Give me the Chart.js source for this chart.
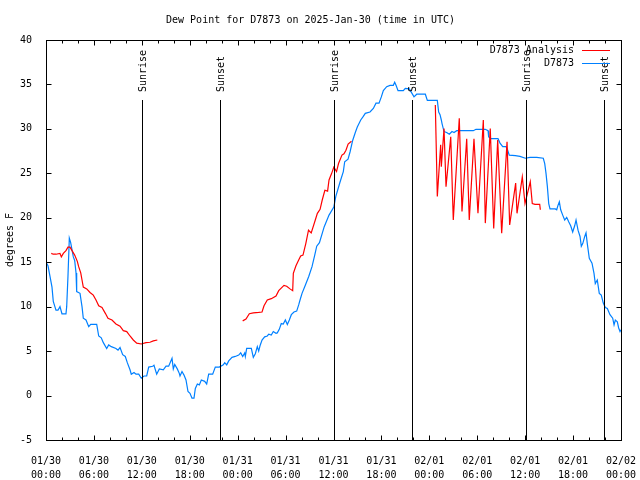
<!DOCTYPE html>
<html>
<head>
<meta charset="utf-8">
<title>Dew Point D7873</title>
<script src="https://cdn.jsdelivr.net/npm/chart.js@4.4.0/dist/chart.umd.min.js"></script>
<style>
  html, body { margin: 0; padding: 0; background: #fff; }
  canvas { display: block; }
</style>
</head>
<body>
<canvas id="dewChart" width="640" height="480"></canvas>
<script>
// hours since 2025-01-30 00:00 UTC
const obsHours = [
  0, 0.25, 0.5, 0.75, 0.91, 1.25, 1.5, 1.75, 2.0, 2.5, 2.59, 2.75, 2.92, 3.09, 3.26, 3.42, 3.59, 3.76, 3.84, 4.26,
  4.51, 4.67, 5.01, 5.35, 5.6, 6.35, 6.6, 6.92, 7.18, 7.6, 7.85, 8.18, 8.76, 9.02, 9.27, 9.6, 9.93, 10.18, 10.52, 10.68,
  11.02, 11.27, 11.61, 11.93, 12.27, 12.61, 12.86, 13.36, 13.52, 13.86, 14.19, 14.69, 15.03, 15.36, 15.78, 15.94, 16.12, 16.44, 16.69, 16.78,
  17.03, 17.28, 17.53, 17.78, 18.03, 18.28, 18.53, 18.7, 18.95, 19.2, 19.45, 19.87, 20.12, 20.37, 20.87, 21.2, 21.7, 22.2, 22.38, 22.63,
  22.88, 23.29, 23.7, 24.13, 24.38, 24.63, 24.88, 24.96, 25.13, 25.71, 25.96, 26.21, 26.46, 26.63, 26.8, 27.05, 27.38, 27.71, 27.89, 28.21,
  28.46, 28.8, 28.96, 29.21, 29.46, 29.71, 29.97, 30.22, 30.47, 30.72, 31.05, 31.39, 31.64, 31.81, 32.06, 32.47, 32.9, 33.31, 33.65, 33.9,
  34.24, 34.84, 35.44, 36.04, 36.29, 36.81, 37.23, 37.4, 37.82, 38.07, 38.4, 38.73, 38.98, 39.41, 39.73, 39.98, 40.57, 40.99, 41.32, 41.7,
  41.99, 42.24, 42.66, 43.08, 43.49, 43.66, 43.83, 44.08, 44.74, 44.99, 45.49, 45.83, 46.08, 46.42, 47.5, 47.75, 49.0, 49.17, 49.34, 49.5,
  49.59, 49.84, 50.17, 50.5, 50.84, 51.09, 51.43, 52.25, 53.51, 53.84, 55.01, 55.35, 55.43, 55.76, 56.6, 56.85, 57.19, 57.6, 57.77, 58.01,
  58.77, 59.35, 60.02, 60.61, 61.45, 62.27, 62.45, 62.61, 62.78, 62.95, 63.11, 63.77, 63.95, 64.11, 64.28, 64.45, 64.7, 64.95, 65.2, 65.45,
  65.7, 65.95, 66.2, 66.37, 66.62, 66.87, 67.03, 67.21, 67.46, 67.62, 67.78, 68.03, 68.37, 68.62, 68.78, 69.03, 69.28, 69.53, 69.78, 70.04,
  70.29, 70.62, 70.96, 71.13, 71.29, 71.54, 71.71, 71.88, 72.0
];
const obsDew = [
  15.0, 14.6, 13.4, 12.2, 10.6, 9.6, 9.6, 10.0, 9.2, 9.2, 10.0, 13.4, 17.7, 17.2, 16.4, 15.6, 15.2, 13.8, 11.7, 11.5,
  10.0, 8.7, 8.5, 7.75, 8.0, 8.0, 6.7, 6.5, 5.95, 5.3, 5.7, 5.5, 5.3, 5.1, 5.4, 4.6, 4.4, 3.7, 2.9, 2.4,
  2.6, 2.4, 2.4, 1.95, 2.2, 2.2, 3.2, 3.3, 3.4, 2.4, 3.0, 2.9, 3.3, 3.3, 4.2, 3.0, 3.5, 3.0, 2.5, 2.2,
  2.7, 2.3, 1.75, 0.45, 0.25, -0.3, -0.3, 0.8, 1.3, 1.2, 1.75, 1.6, 1.3, 2.4, 2.4, 3.2, 3.2, 3.45, 3.7, 3.45,
  3.9, 4.3, 4.4, 4.55, 4.8, 4.4, 4.8, 4.4, 5.3, 5.3, 4.3, 4.7, 5.5, 5.0, 5.6, 6.25, 6.6, 6.7, 6.9, 6.8,
  7.2, 7.0, 7.05, 7.45, 8.1, 8.05, 8.5, 8.0, 8.5, 9.1, 9.4, 9.5, 10.2, 10.75, 11.5, 12.4, 13.4, 14.5, 15.8, 16.8,
  17.2, 19.0, 20.3, 21.2, 22.4, 24.0, 25.2, 26.3, 26.6, 27.4, 28.7, 29.6, 30.2, 31.0, 31.4, 31.75, 31.9, 32.3, 32.9, 32.9,
  33.6, 34.3, 34.75, 34.9, 34.9, 35.25, 34.9, 34.3, 34.3, 34.55, 34.5, 34.0, 33.6, 33.9, 33.9, 33.2, 33.2, 31.9, 31.6, 31.0,
  30.6, 29.7, 29.6, 29.4, 29.7, 29.6, 29.8, 29.8, 29.8, 29.95, 29.95, 29.8, 29.1, 28.9, 28.9, 28.4, 28.0, 28.0, 27.7, 27.05,
  27.0, 26.9, 26.7, 26.8, 26.8, 26.7, 26.1, 25.0, 23.5, 21.6, 21.0, 21.0, 20.9, 21.4, 21.8, 20.9, 20.3, 19.75, 20.05, 19.55,
  19.1, 18.4, 19.1, 19.75, 18.6, 17.9, 16.8, 17.1, 17.9, 18.3, 17.1, 15.45, 14.9, 13.75, 12.6, 13.0, 11.5, 11.3, 10.4, 9.9,
  9.8, 9.1, 8.7, 7.95, 8.5, 8.3, 7.6, 7.2, 7.4
];

// analysis series, null = no analysis (gap)
const anaHours = [
  0.66, 0.91, 1.25, 1.75, 1.92, 2.17, 2.5, 2.75, 3.01, 3.26, 3.59, 3.92, 4.09, 4.35, 4.51, 4.67, 5.1, 5.51, 5.92, 6.26,
  6.6, 7.01, 7.43, 7.76, 8.26, 8.76, 9.27, 9.68, 10.11, 10.52, 10.93, 11.36, 11.93, 12.52, 13.02, 13.44, 13.94,
  19.0,
  24.63, 25.04, 25.46, 25.96, 26.63, 27.05, 27.3, 27.71, 28.21, 28.8, 29.14, 29.8, 30.14, 30.55, 30.89, 30.97, 31.3, 31.64, 31.89, 32.18,
  32.53, 32.87, 33.21, 33.72, 33.98, 34.32, 34.59, 34.92, 35.26, 35.44, 35.77, 36.04, 36.38, 36.63, 37.06, 37.31, 37.56, 37.83, 38.25,
  43.0,
  48.75, 49.0, 49.42, 49.5, 49.84, 50.09, 50.68, 51.0, 51.75, 52.09, 52.68, 53.0, 53.59, 54.09, 54.76, 55.01, 55.63, 56.06, 56.56, 57.06,
  57.73, 58.06, 58.81, 58.98, 59.64, 59.98, 60.64, 60.89, 61.23, 61.82, 61.9
];
const anaDew = [
  16.0, 15.9, 15.9, 16.0, 15.6, 16.0, 16.3, 16.7, 16.7, 16.3, 15.8, 15.1, 14.5, 13.8, 13.0, 12.2, 12.0, 11.6, 11.3, 10.75,
  10.1, 9.9, 9.25, 8.7, 8.5, 8.05, 7.8, 7.3, 7.2, 6.7, 6.25, 5.9, 5.8, 5.95, 6.0, 6.15, 6.25,
  null,
  8.4, 8.6, 9.2, 9.3, 9.35, 9.4, 10.1, 10.75, 10.9, 11.2, 11.8, 12.4, 12.3, 12.0, 11.8, 13.75, 14.6, 15.25, 15.7, 15.8,
  17.1, 18.6, 18.3, 19.75, 20.5, 20.95, 22.0, 23.1, 23.0, 24.25, 25.0, 25.7, 25.2, 26.1, 27.05, 27.2, 27.6, 28.3, 28.6,
  null,
  32.7, 22.4, 28.2, 25.75, 30.05, 23.5, 29.1, 19.75, 31.2, 20.7, 28.9, 19.75, 28.9, 20.5, 31.0, 19.4, 30.05, 18.8, 28.75, 18.25,
  28.55, 19.2, 23.9, 20.5, 24.6, 21.6, 24.05, 21.6, 21.5, 21.5, 20.9
];

const sunHours = [12.0, 21.8, 36.05, 45.85, 60.1, 69.9];
const sunLabels = ['Sunrise', 'Sunset', 'Sunrise', 'Sunset', 'Sunrise', 'Sunset'];

const obsColor = 'rgb(0, 128, 255)';
const anaColor = 'rgb(255, 0, 0)';
const monoFont = '"DejaVu Sans Mono", "Liberation Mono", monospace';
const startUtc = Date.UTC(2025, 0, 30);

Chart.defaults.font.family = monoFont;
Chart.defaults.font.size = 10;
Chart.defaults.color = '#000';

// gnuplot style frame, inward tics, sun lines and key
const gnuplotDecor = {
    id: 'gnuplotDecor',
    afterDatasetsDraw(chart) {
        const { ctx, chartArea: a, scales: { x } } = chart;
        ctx.save();
        ctx.strokeStyle = '#000';
        ctx.fillStyle = '#000';
        ctx.lineWidth = 1;
        ctx.font = '10px ' + monoFont;
        sunHours.forEach((h, i) => {
            const px = Math.round(x.getPixelForValue(h)) + 0.5;
            ctx.beginPath();
            ctx.moveTo(px, a.top + 60);
            ctx.lineTo(px, a.bottom);
            ctx.stroke();
            ctx.save();
            ctx.translate(px + 1, a.top + 52);
            ctx.rotate(-Math.PI / 2);
            ctx.textAlign = 'left';
            ctx.textBaseline = 'middle';
            ctx.fillText(sunLabels[i], 0, 0);
            ctx.restore();
        });
        ctx.restore();
    },
    afterDraw(chart) {
        const { ctx, chartArea: a, scales: { x, y } } = chart;
        ctx.save();
        ctx.strokeStyle = '#000';
        ctx.lineWidth = 1;
        const line = (x1, y1, x2, y2) => {
            ctx.beginPath();
            ctx.moveTo(x1, y1);
            ctx.lineTo(x2, y2);
            ctx.stroke();
        };
        const l = a.left + 0.5, r = a.right + 0.5, t = a.top + 0.5, b = a.bottom + 0.5;
        ctx.strokeRect(l, t, r - l, b - t);

        for (let h = x.min; h <= x.max; h += 2) {
            const px = Math.round(x.getPixelForValue(h)) + 0.5;
            const len = h % 6 === 0 ? 5 : 3;
            line(px, b, px, b - len);
            line(px, t, px, t + len);
        }
        for (let v = y.min; v <= y.max; v += 5) {
            const py = Math.round(y.getPixelForValue(v)) + 0.5;
            line(l, py, l + 5, py);
            line(r, py, r - 5, py);
        }

        // key
        const keyItems = [
            { label: 'D7873 Analysis', color: anaColor },
            { label: 'D7873', color: obsColor }
        ];
        ctx.font = '10px ' + monoFont;
        ctx.textAlign = 'right';
        ctx.textBaseline = 'middle';
        keyItems.forEach((it, i) => {
            const ky = a.top + 10 + i * 13;
            ctx.fillStyle = '#000';
            ctx.fillText(it.label, a.right - 47, ky);
            ctx.strokeStyle = it.color;
            line(a.right - 39, Math.round(ky) + 0.5, a.right - 11, Math.round(ky) + 0.5);
        });
        ctx.restore();
    }
};

const obsPoints = obsHours.map((h, i) => ({ x: h, y: obsDew[i] }));
const anaPoints = anaHours.map((h, i) => ({ x: h, y: anaDew[i] }));

new Chart(document.getElementById('dewChart'), {
    type: 'line',
    data: {
        datasets: [
            {
                label: 'D7873 Analysis',
                data: anaPoints,
                borderColor: anaColor,
                borderWidth: 1.2,
                pointRadius: 0,
                spanGaps: false,
                tension: 0
            },
            {
                label: 'D7873',
                data: obsPoints,
                borderColor: obsColor,
                borderWidth: 1.2,
                pointRadius: 0,
                tension: 0
            }
        ]
    },
    options: {
        responsive: false,
        animation: false,
        events: [],
        layout: { padding: { left: 0, right: 19, top: 0, bottom: 0 } },
        plugins: {
            legend: { display: false },
            tooltip: { enabled: false },
            title: {
                display: true,
                text: 'Dew Point for D7873 on 2025-Jan-30 (time in UTC)',
                color: '#000',
                font: { family: monoFont, size: 10, weight: 'normal', lineHeight: 1.2 },
                padding: { top: 14, bottom: 14 }
            }
        },
        scales: {
            x: {
                type: 'linear',
                min: 0,
                max: 72,
                grid: { display: false },
                border: { display: false },
                afterFit(scale) {
                    scale.height = 40;
                    scale.paddingLeft = 0;
                    scale.paddingRight = 0;
                },
                ticks: {
                    stepSize: 6,
                    autoSkip: false,
                    maxRotation: 0,
                    padding: 6,
                    color: '#000',
                    font: { family: monoFont, size: 10, lineHeight: 1.4 },
                    callback(v) {
                        const d = new Date(startUtc + v * 3600000);
                        const p = n => String(n).padStart(2, '0');
                        return [p(d.getUTCMonth() + 1) + '/' + p(d.getUTCDate()),
                                p(d.getUTCHours()) + ':' + p(d.getUTCMinutes())];
                    }
                }
            },
            y: {
                min: -5,
                max: 40,
                grid: { display: false },
                border: { display: false },
                afterFit(scale) { scale.width = 46; },
                title: {
                    display: true,
                    text: 'degrees F',
                    color: '#000',
                    font: { family: monoFont, size: 10, lineHeight: 1.2 },
                    padding: { top: 4, bottom: 0 }
                },
                ticks: {
                    stepSize: 5,
                    padding: 6,
                    color: '#000',
                    font: { family: monoFont, size: 10 }
                }
            }
        }
    },
    plugins: [gnuplotDecor]
});
</script>
</body>
</html>
